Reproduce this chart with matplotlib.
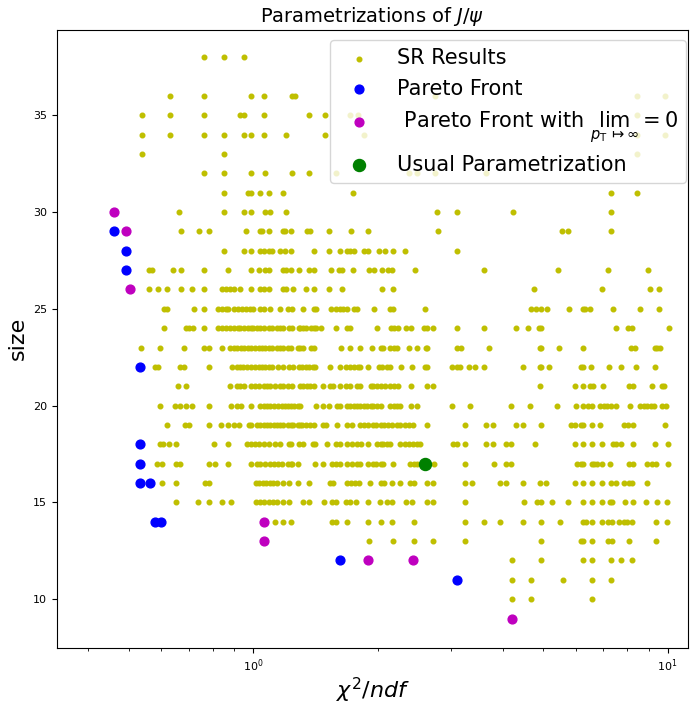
import matplotlib
matplotlib.use("Agg")
import matplotlib.pyplot as plt

# SR results: one list of chi2/ndf values per model size
sr_sizes = [38, 36, 35, 34, 33, 32, 31, 30, 29, 28, 27, 26, 25, 24, 23, 22,
            21, 20, 19, 18, 17, 16, 15, 14, 13, 12, 11, 10]
sr_chi2 = [
    [0.76, 0.85, 0.95],
    [0.63, 0.76, 0.99, 1.06, 1.24, 1.26, 2.74, 8.45, 9.86],
    [0.54, 0.63, 0.76, 0.93, 0.95, 1.06, 1.36, 1.49, 1.71, 1.79, 8.45],
    [0.54, 0.63, 0.76, 0.85, 0.95, 0.99, 1.06, 1.20, 1.49, 1.85, 8.45, 9.86],
    [0.54, 0.85, 8.45],
    [0.76, 0.85, 0.99, 1.07, 1.24, 1.36, 1.58, 2.37, 2.48, 2.74, 3.65],
    [0.85, 0.97, 0.99, 1.04, 1.09, 1.18, 1.74, 7.28, 8.45],
    [0.66, 0.85, 0.95, 0.99, 1.07, 1.10, 1.20, 2.78, 3.10, 4.23, 7.29],
    [0.67, 0.74, 0.78, 0.96, 1.04, 1.05, 1.09, 1.18, 1.19, 1.23, 1.35, 1.37,
     1.52, 1.72, 1.89, 2.79, 5.55, 5.75, 7.29],
    [0.85, 0.95, 0.99, 1.04, 1.06, 1.09, 1.11, 1.16, 1.19, 1.23, 1.40, 1.52,
     1.62, 1.68, 1.71, 1.75, 1.85, 1.89, 2.01, 2.08, 2.17, 2.32, 3.10],
    [0.56, 0.57, 0.64, 0.67, 0.76, 0.87, 0.99, 1.03, 1.07, 1.09, 1.18, 1.20,
     1.23, 1.29, 1.36, 1.40, 1.54, 1.61, 1.64, 1.74, 1.90, 1.96, 2.04, 2.11,
     2.16, 2.45, 3.60, 5.43, 7.19, 8.95],
    [0.56, 0.59, 0.62, 0.67, 0.71, 0.76, 0.84, 0.86, 0.88, 0.90, 0.93, 0.99,
     1.04, 1.06, 1.09, 1.18, 1.20, 1.25, 1.34, 1.40, 1.52, 1.64, 2.04, 2.17,
     4.75, 6.95, 9.06, 9.55],
    [0.61, 0.62, 0.72, 0.76, 0.82, 0.84, 0.86, 0.87, 0.90, 0.92, 0.94, 0.96,
     0.98, 1.00, 1.04, 1.06, 1.10, 1.16, 1.21, 1.24, 1.32, 1.40, 1.42, 1.54,
     1.58, 1.62, 1.65, 1.68, 1.75, 1.78, 1.96, 2.14, 2.17, 2.59, 4.67, 4.80,
     4.94, 5.11, 5.77, 6.26, 6.33, 6.51, 7.39, 8.56, 9.55],
    [0.61, 0.69, 0.70, 0.715, 0.76, 0.82, 0.84, 0.86, 0.88, 0.90, 0.92, 0.93,
     0.95, 0.97, 0.99, 1.00, 1.02, 1.04, 1.06, 1.09, 1.11, 1.14, 1.16, 1.18,
     1.22, 1.24, 1.29, 1.30, 1.32, 1.34, 1.38, 1.40, 1.42, 1.46, 1.58, 1.68,
     1.71, 1.99, 2.15, 2.19, 2.24, 2.34, 2.40, 2.58, 2.62, 2.71, 3.10, 3.61,
     4.31, 4.60, 4.89, 4.95, 7.52, 8.02, 8.22, 10.05],
    [0.537, 0.594, 0.68, 0.76, 0.78, 0.84, 0.88, 0.90, 0.915, 0.933, 0.95,
     0.97, 0.99, 1.01, 1.03, 1.05, 1.07, 1.09, 1.11, 1.14, 1.16, 1.18, 1.21,
     1.23, 1.28, 1.30, 1.32, 1.38, 1.40, 1.63, 1.71, 1.81, 1.93, 2.03, 2.06,
     2.14, 2.18, 2.22, 2.37, 2.48, 2.61, 2.63, 3.10, 3.18, 3.70, 4.91, 4.95,
     5.47, 6.26, 8.17, 8.34, 9.31, 9.44, 9.57],
    [0.58, 0.59, 0.667, 0.68, 0.78, 0.89, 0.913, 0.93, 0.947, 0.966, 0.99,
     1.01, 1.03, 1.05, 1.07, 1.09, 1.11, 1.15, 1.18, 1.22, 1.25, 1.29, 1.31,
     1.34, 1.36, 1.39, 1.41, 1.53, 1.62, 1.67, 1.71, 1.75, 1.79, 1.81, 1.89,
     2.01, 2.05, 2.10, 2.14, 2.27, 2.41, 2.59, 2.62, 3.02, 3.10, 3.15, 3.31,
     3.43, 3.61, 4.47, 4.91, 4.95, 5.18, 6.17, 6.24, 6.52, 7.20, 7.73, 8.38,
     9.34],
    [0.658, 0.69, 0.877, 0.913, 0.93, 0.95, 0.99, 1.01, 1.035, 1.06, 1.08,
     1.10, 1.13, 1.16, 1.18, 1.21, 1.24, 1.30, 1.32, 1.35, 1.37, 1.40, 1.47,
     1.53, 1.56, 1.62, 1.67, 1.71, 1.78, 1.81, 1.92, 1.95, 1.99, 2.03, 2.08,
     2.14, 2.19, 2.23, 2.40, 2.62, 2.72, 4.92, 5.99, 6.26, 6.49, 6.61, 6.98,
     8.06, 8.26, 9.18, 9.67, 9.80],
    [0.594, 0.648, 0.667, 0.69, 0.71, 0.78, 0.885, 0.916, 0.934, 0.99, 1.04,
     1.06, 1.08, 1.10, 1.12, 1.145, 1.17, 1.19, 1.21, 1.23, 1.256, 1.28, 1.30,
     1.42, 1.47, 1.52, 1.59, 1.62, 1.68, 1.71, 1.75, 1.78, 1.81, 1.85, 1.88,
     1.92, 1.95, 1.99, 2.03, 2.14, 2.18, 2.22, 2.26, 2.40, 2.48, 3.01, 3.33,
     4.18, 4.65, 5.42, 6.02, 6.26, 6.42, 6.58, 6.86, 7.02, 7.15, 7.31, 7.52,
     8.11, 8.57, 8.77, 8.93, 9.10, 9.27, 9.67, 9.89],
    [0.62, 0.685, 0.70, 0.78, 0.837, 0.87, 0.90, 0.925, 0.974, 0.99, 1.02,
     1.04, 1.06, 1.08, 1.10, 1.12, 1.14, 1.16, 1.18, 1.21, 1.23, 1.25, 1.28,
     1.30, 1.31, 1.34, 1.37, 1.40, 1.47, 1.50, 1.59, 1.68, 1.73, 1.81, 1.85,
     1.89, 1.94, 1.98, 2.03, 2.07, 2.12, 2.16, 2.22, 2.26, 2.33, 2.37, 2.43,
     2.63, 3.25, 3.64, 3.79, 4.30, 4.48, 4.94, 5.85, 5.96, 6.17, 6.26, 6.58,
     6.86, 7.85, 8.04, 8.26, 9.87],
    [0.594, 0.607, 0.627, 0.65, 0.806, 0.87, 0.965, 0.99, 1.01, 1.03, 1.06,
     1.09, 1.13, 1.16, 1.22, 1.23, 1.29, 1.32, 1.39, 1.41, 1.51, 1.58, 1.62,
     1.68, 1.73, 1.78, 1.82, 1.89, 1.99, 2.03, 2.06, 2.10, 2.14, 2.26, 2.33,
     2.37, 2.43, 2.49, 2.52, 3.04, 3.10, 3.25, 3.64, 3.79, 4.08, 4.18, 4.78,
     5.96, 6.26, 6.58, 6.96, 7.39, 7.52, 7.70, 8.26, 9.32, 10.0],
    [0.585, 0.602, 0.65, 0.667, 0.78, 0.81, 0.867, 0.99, 1.02, 1.04, 1.07,
     1.095, 1.12, 1.145, 1.17, 1.21, 1.23, 1.24, 1.28, 1.41, 1.47, 1.55, 1.58,
     1.62, 1.68, 1.73, 1.78, 1.81, 1.89, 1.94, 1.98, 2.03, 2.06, 2.17, 2.39,
     2.44, 2.49, 2.73, 3.25, 3.81, 4.08, 4.19, 6.05, 6.19, 6.26, 6.58, 6.66,
     6.76, 6.96, 7.24, 8.06, 8.26, 8.93, 9.15, 9.39, 10.0],
    [0.602, 0.652, 0.766, 0.78, 1.017, 1.035, 1.055, 1.075, 1.095, 1.115,
     1.14, 1.18, 1.22, 1.28, 1.36, 1.53, 1.56, 1.68, 1.72, 1.76, 1.80, 1.91,
     2.03, 2.07, 2.16, 2.26, 2.39, 2.44, 2.63, 2.71, 3.25, 3.37, 3.94, 4.07,
     4.48, 4.93, 5.08, 5.97, 6.26, 6.58, 6.96, 7.31, 7.52, 7.85, 8.06, 8.22,
     8.93],
    [0.652, 0.734, 0.784, 0.84, 0.883, 1.017, 1.04, 1.06, 1.09, 1.115, 1.14,
     1.18, 1.22, 1.32, 1.36, 1.48, 1.55, 1.58, 1.67, 1.71, 1.77, 1.89, 2.02,
     2.10, 2.16, 2.34, 2.42, 2.63, 2.71, 3.25, 4.50, 4.84, 4.95, 5.25, 5.75,
     6.26, 6.58, 6.96, 7.26, 7.34, 7.91, 8.24, 8.88, 9.42, 9.96],
    [1.13, 1.18, 1.23, 1.55, 1.58, 1.68, 1.89, 2.03, 2.16, 2.44, 3.25, 3.61,
     3.94, 4.48, 4.94, 5.49, 6.26, 6.34, 6.58, 6.96, 7.17, 7.34, 7.63, 7.85,
     7.99, 8.22, 9.39, 9.96],
    [1.90, 2.17, 2.44, 2.71, 3.25, 4.94, 6.17, 6.26, 6.58, 7.17, 7.34, 8.06,
     9.40],
    [4.22, 4.94, 6.26, 6.58, 7.31, 7.70, 8.20],
    [4.22, 4.68, 5.59, 6.58, 7.31],
    [4.22, 4.68, 6.58],
]

pareto_chi2 = [0.462, 0.494, 0.494, 0.533, 0.533, 0.533, 0.533, 0.564,
               0.58, 0.60, 1.622, 3.104]
pareto_size = [29, 28, 27, 22, 18, 17, 16, 16, 14, 14, 12, 11]

lim_chi2 = [0.462, 0.494, 0.505, 1.059, 1.059, 1.896, 2.434, 4.217]
lim_size = [30, 29, 26, 14, 13, 12, 12, 9]

usual_chi2 = [2.59]
usual_size = [17]

# flatten the SR rows
sr_x = []
sr_y = []
for size, row in zip(sr_sizes, sr_chi2):
    sr_x.extend(row)
    sr_y.extend([size] * len(row))

fig = plt.figure(figsize=(6.91, 7.07), dpi=100)
ax = fig.add_axes([0.0825, 0.084, 0.9132, 0.8736])

ax.scatter(sr_x, sr_y, s=11, color="y", label="SR Results")
ax.scatter(pareto_chi2, pareto_size, s=40, color="b", label="Pareto Front")
ax.scatter(lim_chi2, lim_size, s=40, color="m",
           label=r" Pareto Front with $\lim_{p_{\rm T}\mapsto\infty}=0$")
ax.scatter(usual_chi2, usual_size, s=75, color="g", label="Usual Parametrization")

ax.set_xscale("log")
ax.set_xlim(0.336, 11.2)
ax.set_ylim(7.5, 39.4)
ax.tick_params(labelsize=8)

ax.set_xlabel(r"$\chi^2/ndf$", fontsize=16, labelpad=1)
ax.set_ylabel("size", fontsize=16)
ax.set_title(r"Parametrizations of $J/\psi$", fontsize=14)
ax.legend(loc="upper right", bbox_to_anchor=(0.997, 0.984), borderaxespad=0,
          fontsize=15, handletextpad=0.8, labelspacing=0.5)

fig.savefig("out.png", dpi=100)
